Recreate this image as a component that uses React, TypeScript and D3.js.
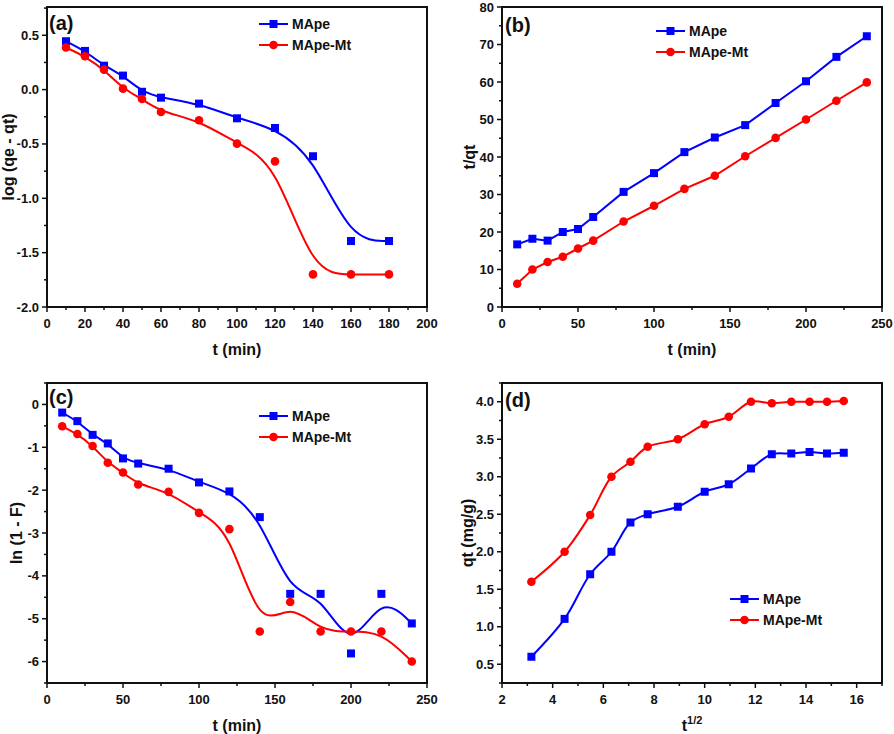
import React from "react";
import * as d3 from "d3";

// ---------- data ----------
const T_A = [10, 20, 30, 40, 50, 60, 80, 100, 120, 140, 160, 180];
const A_MAPE = [0.445, 0.356, 0.22, 0.129, -0.02, -0.074, -0.129, -0.264, -0.353, -0.613, -1.393, -1.393];
const A_MAPE_MT = [0.387, 0.307, 0.184, 0.009, -0.086, -0.206, -0.282, -0.497, -0.66, -1.7, -1.7, -1.7];

const T_B = [10, 20, 30, 40, 50, 60, 80, 100, 120, 140, 160, 180, 200, 220, 240];
const B_MAPE = [16.7, 18.2, 17.7, 20.0, 20.8, 24.0, 30.7, 35.7, 41.3, 45.2, 48.5, 54.4, 60.2, 66.7, 72.2];
const B_MAPE_MT = [6.2, 10.0, 12.0, 13.4, 15.6, 17.7, 22.8, 27.0, 31.5, 35.0, 40.2, 45.1, 50.0, 55.0, 59.9];

const T_C = [10, 20, 30, 40, 50, 60, 80, 100, 120, 140, 160, 180, 200, 220, 240];
const C_MAPE = [-0.19, -0.39, -0.71, -0.91, -1.26, -1.38, -1.5, -1.82, -2.03, -2.63, -4.42, -4.42, -5.81, -4.42, -5.11];
const C_MAPE_MT = [-0.51, -0.69, -0.97, -1.36, -1.59, -1.87, -2.04, -2.53, -2.91, -5.3, -4.61, -5.3, -5.3, -5.3, -6.0];

const SQRT_T = [3.16, 4.47, 5.48, 6.32, 7.07, 7.75, 8.94, 10.0, 10.95, 11.83, 12.65, 13.42, 14.14, 14.83, 15.49];
const D_MAPE = [0.6, 1.105, 1.7, 2.0, 2.39, 2.5, 2.6, 2.8, 2.9, 3.11, 3.3, 3.31, 3.33, 3.31, 3.32];
const D_MAPE_MT = [1.6, 2.0, 2.49, 3.0, 3.2, 3.4, 3.5, 3.7, 3.8, 4.0, 3.98, 4.0, 4.0, 4.0, 4.01];

const SERIES_NAMES = ["MApe", "MApe-Mt"];

const A_XTICKS = [0, 20, 40, 60, 80, 100, 120, 140, 160, 180, 200];
const A_YTICKS = [-2.0, -1.5, -1.0, -0.5, 0.0, 0.5];
const B_XTICKS = [0, 50, 100, 150, 200, 250];
const B_YTICKS = [0, 10, 20, 30, 40, 50, 60, 70, 80];
const C_XTICKS = [0, 50, 100, 150, 200, 250];
const C_YTICKS = [-6, -5, -4, -3, -2, -1, 0];
const D_XTICKS = [2, 4, 6, 8, 10, 12, 14, 16];
const D_YTICKS = [0.5, 1.0, 1.5, 2.0, 2.5, 3.0, 3.5, 4.0];

const BLUE = "#0000ff";
const RED = "#ff0000";
const FONT = "'Liberation Sans', Arial, sans-serif";

type PanelCfg = {
  left: number; right: number; top: number; bottom: number;
  xDomain: [number, number]; yDomain: [number, number];
  xTicks: number[]; yTicks: number[]; xMinorStep: number; yMinorStep: number;
  yFmt: (v: number) => string;
  xs: number[]; s1: number[]; s2: number[];
  curve: any;
  label: string; labelX: number; labelY: number;
  yTitle: string; yTitleX: number;
  xTitle: React.ReactNode;
  legendX: number; legendY: number;
};

function Panel({ c }: { c: PanelCfg }) {
  const x = d3.scaleLinear().domain(c.xDomain).range([c.left, c.right]);
  const y = d3.scaleLinear().domain(c.yDomain).range([c.bottom, c.top]);
  const line = (ys: number[]) =>
    d3.line<number>().x((_, i) => x(c.xs[i])).y((d) => y(d)).curve(c.curve)(ys) || "";

  const xMinor: number[] = [];
  for (let i = 0; i < c.xTicks.length - 1; i++) {
    for (let v = c.xTicks[i] + c.xMinorStep; v < c.xTicks[i + 1] - 1e-9; v += c.xMinorStep) xMinor.push(v);
  }
  if (c.xDomain[1] > c.xTicks[c.xTicks.length - 1]) {
    for (let v = c.xTicks[c.xTicks.length - 1] + c.xMinorStep; v <= c.xDomain[1] + 1e-9; v += c.xMinorStep) xMinor.push(v);
  }
  const yMinor: number[] = [];
  for (let i = 0; i < c.yTicks.length - 1; i++) {
    for (let v = c.yTicks[i] + c.yMinorStep; v < c.yTicks[i + 1] - 1e-9; v += c.yMinorStep) yMinor.push(v);
  }
  if (c.yDomain[1] > c.yTicks[c.yTicks.length - 1]) {
    for (let v = c.yTicks[c.yTicks.length - 1] + c.yMinorStep; v <= c.yDomain[1] + 1e-9; v += c.yMinorStep) yMinor.push(v);
  }
  if (c.yDomain[0] < c.yTicks[0]) {
    for (let v = c.yTicks[0] - c.yMinorStep; v >= c.yDomain[0] - 1e-9; v -= c.yMinorStep) yMinor.push(v);
  }

  const midY = (c.top + c.bottom) / 2;
  const midX = (c.left + c.right) / 2;
  const lg = c.legendX, lgy = c.legendY;

  return (
    <g fontFamily={FONT} fontWeight="bold">
      {/* lines */}
      <path d={line(c.s1)} fill="none" stroke={BLUE} strokeWidth={2} />
      <path d={line(c.s2)} fill="none" stroke={RED} strokeWidth={2} />
      {c.s1.map((v, i) => (
        <rect key={"s" + i} x={x(c.xs[i]) - 4} y={y(v) - 4} width={8} height={8} fill={BLUE} />
      ))}
      {c.s2.map((v, i) => (
        <circle key={"c" + i} cx={x(c.xs[i])} cy={y(v)} r={4.3} fill={RED} />
      ))}
      {/* frame */}
      <rect x={c.left} y={c.top} width={c.right - c.left} height={c.bottom - c.top} fill="none" stroke="#111" strokeWidth={2} />
      {/* x ticks */}
      {c.xTicks.map((t) => (
        <g key={"xt" + t}>
          <line x1={x(t)} x2={x(t)} y1={c.bottom} y2={c.bottom + 5} stroke="#111" strokeWidth={1.5} />
          <text x={x(t)} y={c.bottom + 21} textAnchor="middle" fontSize={13} fill="#111">{t}</text>
        </g>
      ))}
      {xMinor.map((t) => (
        <line key={"xm" + t} x1={x(t)} x2={x(t)} y1={c.bottom} y2={c.bottom + 3} stroke="#111" strokeWidth={1.5} />
      ))}
      {/* y ticks */}
      {c.yTicks.map((t) => (
        <g key={"yt" + t}>
          <line x1={c.left - 5} x2={c.left} y1={y(t)} y2={y(t)} stroke="#111" strokeWidth={1.5} />
          <text x={c.left - 8} y={y(t) + 4.5} textAnchor="end" fontSize={13} fill="#111">{c.yFmt(t)}</text>
        </g>
      ))}
      {yMinor.map((t) => (
        <line key={"ym" + t} x1={c.left - 3} x2={c.left} y1={y(t)} y2={y(t)} stroke="#111" strokeWidth={1.5} />
      ))}
      {/* panel label */}
      <text x={c.labelX} y={c.labelY} fontSize={20} fill="#111">{c.label}</text>
      {/* axis titles */}
      <text x={midX} y={c.bottom + 48} textAnchor="middle" fontSize={16} fill="#111">{c.xTitle}</text>
      <text transform={`translate(${c.yTitleX},${midY}) rotate(-90)`} textAnchor="middle" fontSize={16} fill="#111">{c.yTitle}</text>
      {/* legend */}
      <line x1={lg} x2={lg + 29} y1={lgy} y2={lgy} stroke={BLUE} strokeWidth={2} />
      <rect x={lg + 14.5 - 4} y={lgy - 4} width={8} height={8} fill={BLUE} />
      <text x={lg + 33} y={lgy + 5} fontSize={14} fill="#111">{SERIES_NAMES[0]}</text>
      <line x1={lg} x2={lg + 29} y1={lgy + 21} y2={lgy + 21} stroke={RED} strokeWidth={2} />
      <circle cx={lg + 14.5} cy={lgy + 21} r={4.3} fill={RED} />
      <text x={lg + 33} y={lgy + 26} fontSize={14} fill="#111">{SERIES_NAMES[1]}</text>
    </g>
  );
}

export default function App() {
  const f1 = (v: number) => v.toFixed(1);
  const f0 = (v: number) => String(v);
  const panels: PanelCfg[] = [
    {
      left: 47, right: 427, top: 7, bottom: 307,
      xDomain: [0, 200], yDomain: [-2.0, 0.76],
      xTicks: A_XTICKS, yTicks: A_YTICKS, xMinorStep: 10, yMinorStep: 0.25, yFmt: f1,
      xs: T_A, s1: A_MAPE, s2: A_MAPE_MT, curve: d3.curveBasis,
      label: "(a)", labelX: 49, labelY: 30, yTitle: "log (qe - qt)", yTitleX: 14,
      xTitle: "t (min)", legendX: 259, legendY: 24,
    },
    {
      left: 502, right: 882, top: 7, bottom: 307,
      xDomain: [0, 250], yDomain: [0, 80],
      xTicks: B_XTICKS, yTicks: B_YTICKS, xMinorStep: 25, yMinorStep: 5, yFmt: f0,
      xs: T_B, s1: B_MAPE, s2: B_MAPE_MT, curve: d3.curveLinear,
      label: "(b)", labelX: 505, labelY: 32, yTitle: "t/qt", yTitleX: 475,
      xTitle: "t (min)", legendX: 656, legendY: 31,
    },
    {
      left: 47, right: 427, top: 383, bottom: 683,
      xDomain: [0, 250], yDomain: [-6.5, 0.5],
      xTicks: C_XTICKS, yTicks: C_YTICKS, xMinorStep: 25, yMinorStep: 0.5, yFmt: f0,
      xs: T_C, s1: C_MAPE, s2: C_MAPE_MT, curve: d3.curveBasis,
      label: "(c)", labelX: 49, labelY: 404, yTitle: "ln (1 - F)", yTitleX: 22,
      xTitle: "t (min)", legendX: 259, legendY: 416,
    },
    {
      left: 502, right: 882, top: 383, bottom: 683,
      xDomain: [2, 17], yDomain: [0.25, 4.25],
      xTicks: D_XTICKS, yTicks: D_YTICKS, xMinorStep: 1, yMinorStep: 0.25, yFmt: f1,
      xs: SQRT_T, s1: D_MAPE, s2: D_MAPE_MT, curve: d3.curveCatmullRom.alpha(0.5),
      label: "(d)", labelX: 505, labelY: 407, yTitle: "qt (mg/g)", yTitleX: 473,
      xTitle: (
        <>
          t<tspan fontSize={11} dy={-7}>1/2</tspan>
        </>
      ),
      legendX: 730, legendY: 599,
    },
  ];
  return (
    <svg width={894} height={734} style={{ position: "absolute", left: 0, top: 0, background: "#fff" }}>
      <rect width={894} height={734} fill="#fff" />
      {panels.map((p, i) => (
        <Panel key={i} c={p} />
      ))}
    </svg>
  );
}
